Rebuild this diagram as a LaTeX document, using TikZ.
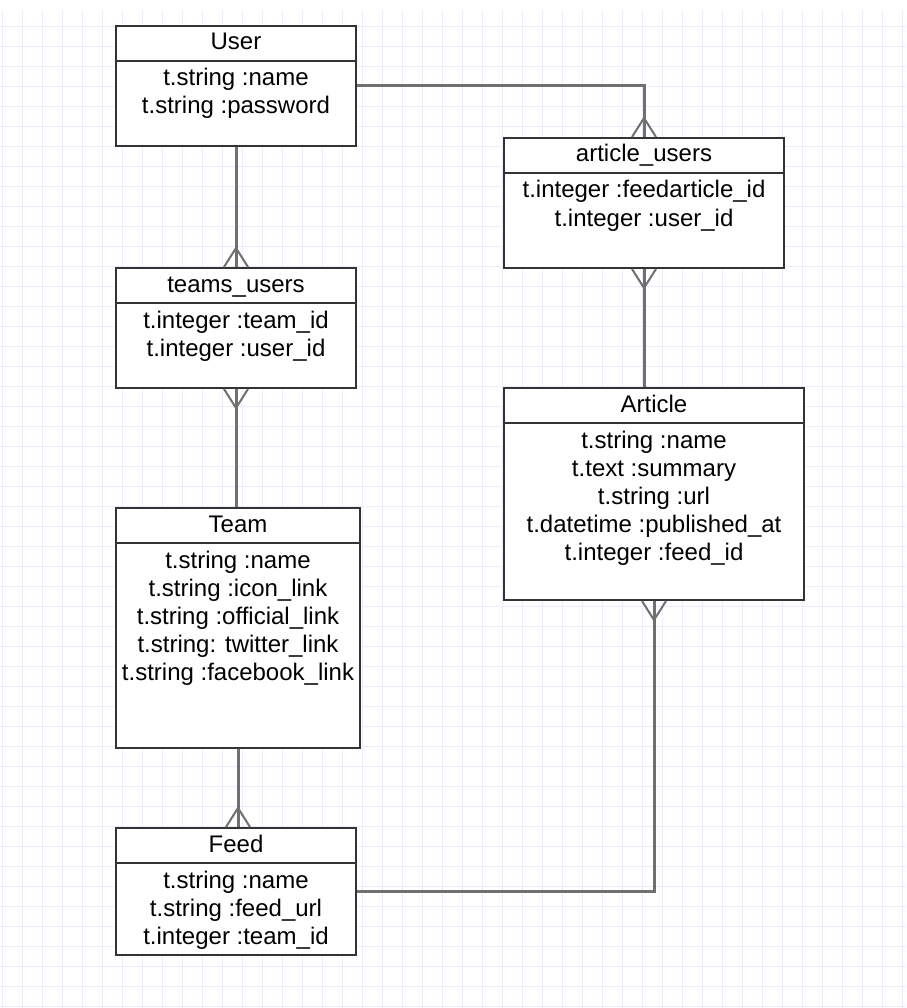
\documentclass[tikz,border=0pt]{standalone}
\usepackage{fontspec}
\setmainfont{Liberation Sans}
\definecolor{gridc}{RGB}{236,236,250}
\definecolor{borderc}{RGB}{51,51,51}
\definecolor{connc}{RGB}{112,112,112}
\tikzset{
  gridline/.style={draw=gridc, line width=1.2pt},
  ebox/.style={draw=borderc, line width=2pt, fill=white, rectangle, inner sep=0pt},
  eline/.style={draw=borderc, line width=2pt},
  etext/.style={anchor=base, inner sep=0pt, font=\fontsize{24}{28}\selectfont, text=black},
  conn/.style={draw=connc, line width=3pt},
  crow/.style={draw=connc, line width=2pt, line join=miter},
}
\newcommand\erent[7]{%
  \node[ebox, minimum width=#4pt, minimum height=#5pt, anchor=north west] (#1) at (#2,#3) {};
  \draw[eline] ([yshift=-36pt]#1.north west) -- ([yshift=-36pt]#1.north east);
  \node[etext] (#1-t) at ([yshift=-25pt]#1.north) {#6};
  \foreach \r [count=\i] in {#7} {
    \node[etext] (#1-\i) at ([yshift=-33pt-28pt*\i]#1.north) {\r};
  }%
}
\newcommand\crowup[1]{\draw[crow] ([xshift=-12pt]#1) -- ([yshift=19pt]#1) -- ([xshift=12pt]#1);}
\newcommand\crowdown[1]{\draw[crow] ([xshift=-12pt]#1) -- ([yshift=-19pt]#1) -- ([xshift=12pt]#1);}
\begin{document}
\begin{tikzpicture}[x=1pt, y=-1pt]
\useasboundingbox (0,0) rectangle (906,1008);
\fill[white] (0,0) rectangle (906,1008);
% grid
\foreach \k in {0,...,45} { \draw[gridline] (2.7+20*\k,10) -- (2.7+20*\k,1008); }
\foreach \k in {1,...,50} { \draw[gridline] (0,6.7+20*\k) -- (906,6.7+20*\k); }

% entities
\erent{user}{115}{25}{240}{120}{User}{t.string :name, t.string :password}
\erent{articleusers}{503}{137}{280}{130}{article\_users}{t.integer :feedarticle\_id, t.integer :user\_id}
\erent{teamsusers}{115}{267}{240}{120}{teams\_users}{t.integer :team\_id, t.integer :user\_id}
\erent{team}{115}{507}{244}{240}{Team}{t.string :name, t.string :icon\_link, t.string :official\_link, t.string: twitter\_link, t.string :facebook\_link}
\erent{feed}{115}{827}{240}{127}{Feed}{t.string :name, t.string :feed\_url, t.integer :team\_id}
\erent{article}{503}{387}{300}{212}{Article}{t.string :name, t.text :summary, t.string :url, t.datetime :published\_at, t.integer :feed\_id}

% connector end points
\coordinate (tuTeam) at (teamsusers.south |- team.north);
\coordinate (feedTop) at (team.south |- feed.north);
\coordinate (artTop) at (articleusers.south |- article.north);

% connectors
\draw[conn] (user.east) -| (articleusers.north);
\draw[conn] (user.south) -- (teamsusers.north);
\draw[conn] (teamsusers.south) -- (tuTeam);
\draw[conn] (team.south) -- (feedTop);
\draw[conn] (articleusers.south) -- (artTop);
\draw[conn] (article.south) |- (feed.east);

% crow's feet
\crowup{articleusers.north}
\crowup{teamsusers.north}
\crowdown{teamsusers.south}
\crowup{feedTop}
\crowdown{articleusers.south}
\crowdown{article.south}
\end{tikzpicture}
\end{document}
